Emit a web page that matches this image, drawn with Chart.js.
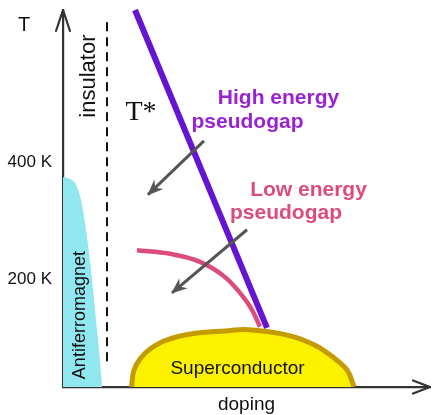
<!DOCTYPE html>
<html><head><meta charset="utf-8">
<script src="https://cdn.jsdelivr.net/npm/chart.js@4.4.1/dist/chart.umd.min.js"></script>
<style>html,body{margin:0;padding:0;background:#fff}canvas{display:block}</style>
</head><body>
<canvas id="c" width="433" height="415"></canvas>
<script>
// Temperature ticks (K) on the vertical axis
const tempTicks = [200, 400];

// Antiferromagnetic boundary
const afDoping = [0, 0.007, 0.013, 0.018, 0.023, 0.028, 0.033, 0.037, 0.039];
const afTemp   = [374, 371, 361, 335, 284, 215, 130, 61, 15];

// Insulator boundary (dashed)
const insulatorDoping = [0.044, 0.044];
const insulatorTemp   = [639, 53];

// T* : high energy pseudogap line
const tStarDoping = [0.072, 0.204];
const tStarTemp   = [660, 116];

// Low energy pseudogap line
const lowGapDoping = [0.074, 0.107, 0.137, 0.162, 0.177, 0.189, 0.197];
const lowGapTemp   = [249, 243, 229, 203, 176, 147, 118];

// Superconducting dome
const scDoping = [0.0685, 0.071, 0.0775, 0.087, 0.103, 0.129, 0.162, 0.186, 0.2265, 0.2525, 0.2715, 0.2845, 0.291];
const scTemp   = [15, 44, 64, 80, 95, 106, 111, 113, 103, 86, 64, 43, 15];

// Pointer arrows (tail -> tip)
const highArrowDoping = [0.141, 0.085];
const highArrowTemp   = [436, 344];
const lowArrowDoping  = [0.184, 0.109];
const lowArrowTemp    = [284, 176];

// Region / line labels, anchored in (doping, T)
const labelTexts  = ['T*', 'High energy', 'pseudogap', 'Low energy', 'pseudogap', 'Superconductor', 'insulator', 'Antiferromagnet'];
const labelDoping = [0.078, 0.2155, 0.1845, 0.2455, 0.223, 0.1745, 0.026, 0.017];
const labelTemp   = [485, 509, 468, 352, 313, 47, 547, 138];

const SANS = "'Liberation Sans', Arial, Helvetica, sans-serif";
const PURPLE_LINE = '#6514d2';
const PURPLE_TEXT = '#9b22d2';
const PINK = '#dc4b7d';
const GREY = '#555555';

const pts = (xs, ys) => xs.map((x, i) => ({x, y: ys[i]}));

const labelStyles = [
  {font: "28px 'Liberation Serif', 'Times New Roman', serif", color: '#111', rot: 0},
  {font: 'bold 21px ' + SANS, color: PURPLE_TEXT, rot: 0},
  {font: 'bold 21px ' + SANS, color: PURPLE_TEXT, rot: 0},
  {font: 'bold 21px ' + SANS, color: PINK, rot: 0},
  {font: 'bold 21px ' + SANS, color: PINK, rot: 0},
  {font: '19px ' + SANS, color: '#111', rot: 0},
  {font: '22px ' + SANS, color: '#111', rot: -Math.PI / 2},
  {font: '18px ' + SANS, color: '#111', rot: -Math.PI / 2}
];

const decorations = {
  id: 'decorations',
  afterDatasetsDraw(chart) {
    const ctx = chart.ctx;
    const xs = chart.scales.x, ys = chart.scales.y;
    // arrowheads on pointer datasets
    chart.data.datasets.forEach((ds, i) => {
      if (!ds.arrow) return;
      const p = chart.getDatasetMeta(i).data;
      const a = p[p.length - 2], b = p[p.length - 1];
      const ang = Math.atan2(b.y - a.y, b.x - a.x);
      const L = 15, W = 6.5, N = 10;
      ctx.save();
      ctx.translate(b.x, b.y);
      ctx.rotate(ang);
      ctx.fillStyle = GREY;
      ctx.beginPath();
      ctx.moveTo(1, 0);
      ctx.lineTo(-L, -W);
      ctx.lineTo(-N, 0);
      ctx.lineTo(-L, W);
      ctx.closePath();
      ctx.fill();
      ctx.restore();
    });
    // text labels
    labelTexts.forEach((t, i) => {
      const st = labelStyles[i];
      ctx.save();
      ctx.translate(xs.getPixelForValue(labelDoping[i]), ys.getPixelForValue(labelTemp[i]));
      ctx.rotate(st.rot);
      ctx.font = st.font;
      ctx.fillStyle = st.color;
      ctx.textAlign = 'center';
      ctx.textBaseline = 'middle';
      ctx.fillText(t, 0, 0);
      ctx.restore();
    });
  },
  afterDraw(chart) {
    const ctx = chart.ctx;
    const {left, top, right, bottom} = chart.chartArea;
    ctx.save();
    ctx.strokeStyle = '#333';
    ctx.lineWidth = 2.2;
    ctx.lineCap = 'round';
    ctx.lineJoin = 'round';
    // arrow tip on the temperature axis
    ctx.beginPath();
    ctx.moveTo(left - 7, top + 21);
    ctx.lineTo(left, top);
    ctx.lineTo(left + 7, top + 21);
    ctx.stroke();
    // arrow tip on the doping axis
    ctx.beginPath();
    ctx.moveTo(right - 17, bottom - 6.5);
    ctx.lineTo(right, bottom);
    ctx.lineTo(right - 17, bottom + 6.5);
    ctx.stroke();
    // axis name for temperature
    ctx.fillStyle = '#111';
    ctx.font = '20px ' + SANS;
    ctx.textAlign = 'center';
    ctx.textBaseline = 'middle';
    ctx.fillText('T', left - 39, top + 15);
    ctx.restore();
  }
};

new Chart(document.getElementById('c'), {
  type: 'scatter',
  data: {
    datasets: [
      {
        label: 'Pointer high', data: pts(highArrowDoping, highArrowTemp), arrow: true,
        showLine: true, borderColor: GREY, borderWidth: 3, pointRadius: 0, order: 0, clip: false
      },
      {
        label: 'Pointer low', data: pts(lowArrowDoping, lowArrowTemp), arrow: true,
        showLine: true, borderColor: GREY, borderWidth: 3, pointRadius: 0, order: 0, clip: false
      },
      {
        label: 'Superconductor', data: pts(scDoping, scTemp),
        showLine: true, borderColor: '#c49b00', backgroundColor: '#fcf200', borderWidth: 5,
        fill: 'start', tension: 0.4, pointRadius: 0, order: 1
      },
      {
        label: 'T*', data: pts(tStarDoping, tStarTemp),
        showLine: true, borderColor: PURPLE_LINE, borderWidth: 6, pointRadius: 0, order: 2, clip: false
      },
      {
        label: 'Low energy pseudogap', data: pts(lowGapDoping, lowGapTemp),
        showLine: true, borderColor: PINK, borderWidth: 4.5, cubicInterpolationMode: 'monotone',
        pointRadius: 0, order: 3, clip: false
      },
      {
        label: 'insulator', data: pts(insulatorDoping, insulatorTemp),
        showLine: true, borderColor: '#111', borderWidth: 2, borderDash: [9, 6], pointRadius: 0, order: 4
      },
      {
        label: 'Antiferromagnet', data: pts(afDoping, afTemp),
        showLine: true, borderColor: 'rgba(0,0,0,0)', borderWidth: 0, backgroundColor: '#91e7ef',
        fill: 'start', cubicInterpolationMode: 'monotone', pointRadius: 0, order: 5
      }
    ]
  },
  options: {
    responsive: false,
    animation: false,
    layout: {padding: {top: 10, right: 3, left: 0, bottom: 0}},
    plugins: {legend: {display: false}, tooltip: {enabled: false}},
    scales: {
      x: {
        type: 'linear', min: 0, max: 0.367,
        grid: {display: false, drawTicks: false},
        border: {display: true, color: '#333', width: 2.2},
        ticks: {display: false},
        title: {display: true, text: 'doping', color: '#111', font: {family: SANS, size: 19, lineHeight: 1}, padding: {top: 0, bottom: 1}},
        afterFit(s) { s.height = 28; s.paddingLeft = 0; s.paddingRight = 0; }
      },
      y: {
        type: 'linear', min: 15, max: 660,
        grid: {display: false, drawTicks: false},
        border: {display: true, color: '#333', width: 2.2},
        afterBuildTicks(s) { s.ticks = tempTicks.map(v => ({value: v})); },
        ticks: {
          color: '#111', padding: 11, font: {family: SANS, size: 17},
          callback: v => v + ' K'
        },
        afterFit(s) { s.width = 63; s.paddingTop = 0; s.paddingBottom = 0; }
      }
    }
  },
  plugins: [decorations]
});
</script>
</body></html>
